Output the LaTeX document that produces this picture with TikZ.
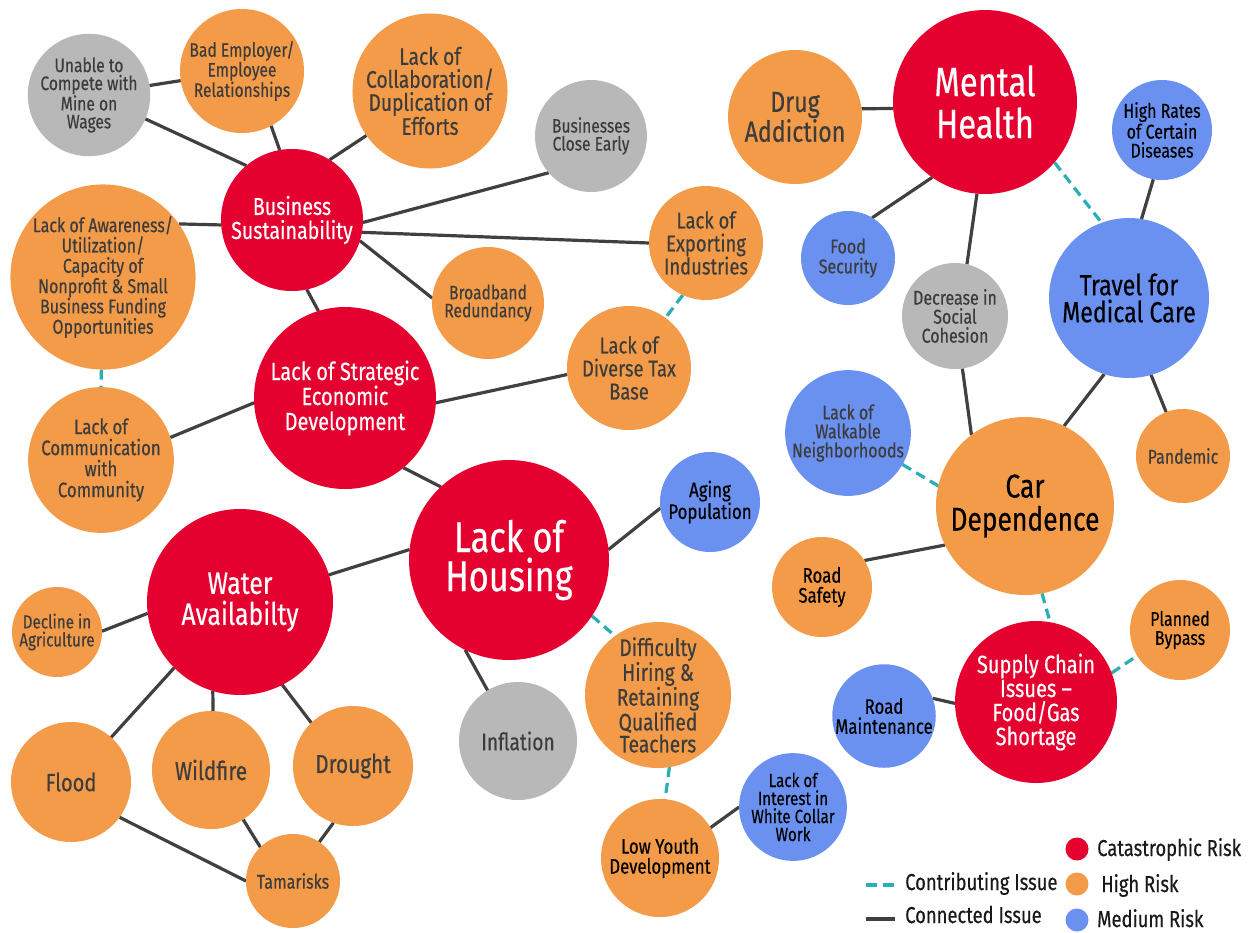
\documentclass[tikz,border=0pt]{standalone}
\usepackage{fontspec}
\setmainfont{Fira Sans}[FakeStretch=0.8,FakeBold=0.4]
\usetikzlibrary{backgrounds}

\definecolor{catred}{HTML}{E4002F}
\definecolor{highorange}{HTML}{F39B48}
\definecolor{medblue}{HTML}{6A91F0}
\definecolor{minorgray}{HTML}{B8B8B8}
\definecolor{contribteal}{HTML}{2AAEB6}
\definecolor{linkgray}{HTML}{404040}
\definecolor{txtdark}{HTML}{3C3C3C}

\newcommand{\fsz}[2]{\fontsize{#1}{#2}\selectfont}

\begin{document}
\begin{tikzpicture}[x=1pt,y=-1pt,
  risk/.style={circle,inner sep=0pt,outer sep=0pt,align=center,text=txtdark},
  catastrophic/.style={risk,fill=catred,text=white},
  high/.style={risk,fill=highorange},
  medium/.style={risk,fill=medblue},
  minor/.style={risk,fill=minorgray},
  link/.style={draw=linkgray,line width=3.2pt},
  contrib/.style={draw=contribteal,line width=3.2pt,dash pattern=on 10pt off 6pt},
  legtext/.style={anchor=base west,inner sep=0pt,text=black!90,font=\fsz{23}{23}},
  legdot/.style={circle,inner sep=0pt,minimum size=23pt}]
  \useasboundingbox (0,0) rectangle (1252,932);

  % business cluster
  \node[minor,minimum size=112pt,font=\fsz{19.5}{18}] (unable) at (89,95) {Unable to\\Compete with\\Mine on\\Wages};
  \node[high,minimum size=124pt,font=\fsz{19.5}{18}] (bademp) at (242,71) {Bad Employer/\\Employee\\Relationships};
  \node[high,minimum size=152pt,font=\fsz{24}{23}] (collab) at (430,91) {Lack of\\Collaboration/\\Duplication of\\Efforts};
  \node[minor,minimum size=112pt,font=\fsz{19.5}{18}] (closeearly) at (591,136) {Businesses\\Close Early};
  \node[catastrophic,minimum size=142pt,font=\fsz{24.5}{24}] (business) at (292,220) {Business\\Sustainability};
  \node[high,minimum size=180pt,font=\fsz{20}{20.3}] (awareness) at (103,277) {Lack of Awareness/\\Utilization/\\Capacity of\\Nonprofit \& Small\\Business Funding\\Opportunities};
  \node[high,minimum size=112pt,font=\fsz{19.5}{18}] (broadband) at (488,303) {Broadband\\Redundancy};
  \node[high,minimum size=114pt,font=\fsz{23}{23}] (exporting) at (706,243) {Lack of\\Exporting\\Industries};
  \node[high,minimum size=124pt,font=\fsz{23}{23}] (taxbase) at (629,368) {Lack of\\Diverse Tax\\Base};
  \node[catastrophic,minimum size=182pt,font=\fsz{25}{25}] (strategic) at (345,398) {Lack of Strategic\\Economic\\Development};
  \node[high,minimum size=138pt,font=\fsz{21}{21}] (communication) at (101,460) {Lack of\\Communication\\with\\Community};

  % water cluster
  \node[catastrophic,minimum size=186pt,font=\fsz{31}{31}] (water) at (240,602) {Water\\Availabilty};
  \node[high,minimum size=90pt,font=\fsz{19}{18}] (decline) at (57,632) {Decline in\\Agriculture};
  \node[high,minimum size=120pt,font=\fsz{25}{25}] (flood) at (71,782) {Flood};
  \node[high,minimum size=118pt,font=\fsz{26}{26}] (wildfire) at (211,770) {Wildfire};
  \node[high,minimum size=120pt,font=\fsz{26}{26}] (drought) at (353,766) {Drought};
  \node[high,minimum size=94pt,font=\fsz{20}{20}] (tamarisks) at (293,881) {Tamarisks};

  % housing cluster
  \node[catastrophic,minimum size=200pt,font=\fsz{43}{39}] (housing) at (509,560) {Lack of\\Housing};
  \node[medium,text=black,minimum size=100pt,font=\fsz{21}{19}] (aging) at (710,502) {Aging\\Population};
  \node[minor,minimum size=118pt,font=\fsz{24}{24}] (inflation) at (518,741) {Inflation};
  \node[high,minimum size=146pt,font=\fsz{24}{22}] (hiring) at (658,695) {Difficulty\\Hiring \&\\Retaining\\Qualified\\Teachers};
  \node[high,text=black,minimum size=118pt,font=\fsz{21}{20}] (lowyouth) at (660,858) {Low Youth\\Development};
  \node[medium,text=black,minimum size=98pt,font=\fsz{19}{18}] (interest) at (793,807) {Lack of\\Interest in\\White Collar\\Work};

  % health and transport cluster
  \node[high,minimum size=134pt,font=\fsz{29}{25}] (drug) at (795,117) {Drug\\Addiction};
  \node[catastrophic,minimum size=184pt,font=\fsz{41}{42}] (mental) at (985,102) {Mental\\Health};
  \node[medium,text=black,minimum size=100pt,font=\fsz{20}{19}] (diseases) at (1162,130) {High Rates\\of Certain\\Diseases};
  \node[medium,minimum size=94pt,font=\fsz{20}{20}] (food) at (848,258) {Food\\Security};
  \node[minor,minimum size=106pt,font=\fsz{20}{19}] (cohesion) at (955,316) {Decrease in\\Social\\Cohesion};
  \node[medium,text=black,minimum size=160pt,font=\fsz{29}{27}] (travel) at (1129,298) {Travel for\\Medical Care};
  \node[medium,minimum size=118pt,font=\fsz{20}{19}] (walkable) at (848,433) {Lack of\\Walkable\\Neighborhoods};
  \node[high,minimum size=94pt,font=\fsz{20}{20}] (pandemic) at (1183,456) {Pandemic};
  \node[high,text=black,minimum size=178pt,font=\fsz{33}{33}] (car) at (1025,506) {Car\\Dependence};
  \node[high,text=black,minimum size=100pt,font=\fsz{21}{20}] (roadsafety) at (822,587) {Road\\Safety};
  \node[high,text=black,minimum size=100pt,font=\fsz{20}{19}] (bypass) at (1180,630) {Planned\\Bypass};
  \node[catastrophic,minimum size=162pt,font=\fsz{25}{24}] (supply) at (1036,702) {Supply Chain\\Issues --\\Food/Gas\\Shortage};
  \node[medium,text=black,minimum size=96pt,font=\fsz{21}{20}] (roadmaint) at (884,716) {Road\\Maintenance};

  \begin{pgfonlayer}{background}
    \fill[white] (0,0) rectangle (1252,932);
    \draw[link] (unable) -- (bademp);
    \draw[link] (unable.-23) -- (business.130);
    \draw[link] (bademp.-62) -- (business.100);
    \draw[link] (collab.215) -- (business.58);
    \draw[link] (closeearly.221) -- (business.-2);
    \draw[link] (exporting.180) -- (business.-10);
    \draw[link] (broadband.175) -- (business.-17);
    \draw[link] (awareness.35) -- (business.184);
    \draw[link] (business.-78) -- (strategic.107);
    \draw[link] (strategic.183) -- (communication.18);
    \draw[link] (strategic.-3) -- (taxbase.186);
    \draw[link] (strategic.-50) -- (housing.133);
    \draw[link] (housing.174) -- (water.17);
    \draw[link] (water.187) -- (decline.1);
    \draw[link] (water.225) -- (flood.48);
    \draw[link] (water.-107) -- (wildfire.88);
    \draw[link] (water.-63) -- (drought.134);
    \draw[link] (flood.-36) -- (tamarisks.180);
    \draw[link] (wildfire.-57) -- (tamarisks.134);
    \draw[link] (drought.-109) -- (tamarisks.56);
    \draw[link] (housing.6) -- (aging.187);
    \draw[link] (housing.-116) -- (inflation.121);
    \draw[link] (lowyouth.31) -- (interest.180);
    \draw[link] (drug.7) -- (mental.184);
    \draw[link] (mental.-125) -- (food.59);
    \draw[link] (mental.-95) -- (cohesion.77);
    \draw[link] (diseases.-100) -- (travel.81);
    \draw[link] (cohesion.-82) -- (car.127);
    \draw[link] (travel.-108) -- (car.64);
    \draw[link] (travel.-74) -- (pandemic.111);
    \draw[link] (roadsafety.32) -- (car.206);
    \draw[link] (roadmaint.20) -- (supply.181);
    % contributing issues
    \draw[contrib] (awareness.-91) -- (communication.90);
    \draw[contrib] (exporting.-114) -- (taxbase.54);
    \draw[contrib] (housing.-34) -- (hiring.126);
    \draw[contrib] (hiring.-81) -- (lowyouth.85);
    \draw[contrib] (mental.-41) -- (travel.110);
    \draw[contrib] (walkable.-30) -- (car.167);
    \draw[contrib] (car.-79) -- (supply.80);
    \draw[contrib] (supply.21) -- (bypass.211);
  \end{pgfonlayer}

  % legend
  \coordinate (contribA) at (866,885);
  \coordinate (contribB) at (895,885);
  \coordinate (linkA) at (866,919);
  \coordinate (linkB) at (895,919);
  \draw[contrib,dash pattern=on 11pt off 6pt] (contribA) -- (contribB);
  \draw[link] (linkA) -- (linkB);
  \node[legtext] (contribtext) at (905,890) {Contributing Issue};
  \node[legtext] (linktext) at (905,923) {Connected Issue};
  \node[legdot,fill=catred] (catdot) at (1077,849) {};
  \node[legdot,fill=highorange] (highdot) at (1077,884) {};
  \node[legdot,fill=medblue] (meddot) at (1077,920) {};
  \node[legtext] (cattext) at (1097,856) {Catastrophic Risk};
  \node[legtext] (hightext) at (1101,892) {High Risk};
  \node[legtext] (medtext) at (1097,927) {Medium Risk};
\end{tikzpicture}
\end{document}
